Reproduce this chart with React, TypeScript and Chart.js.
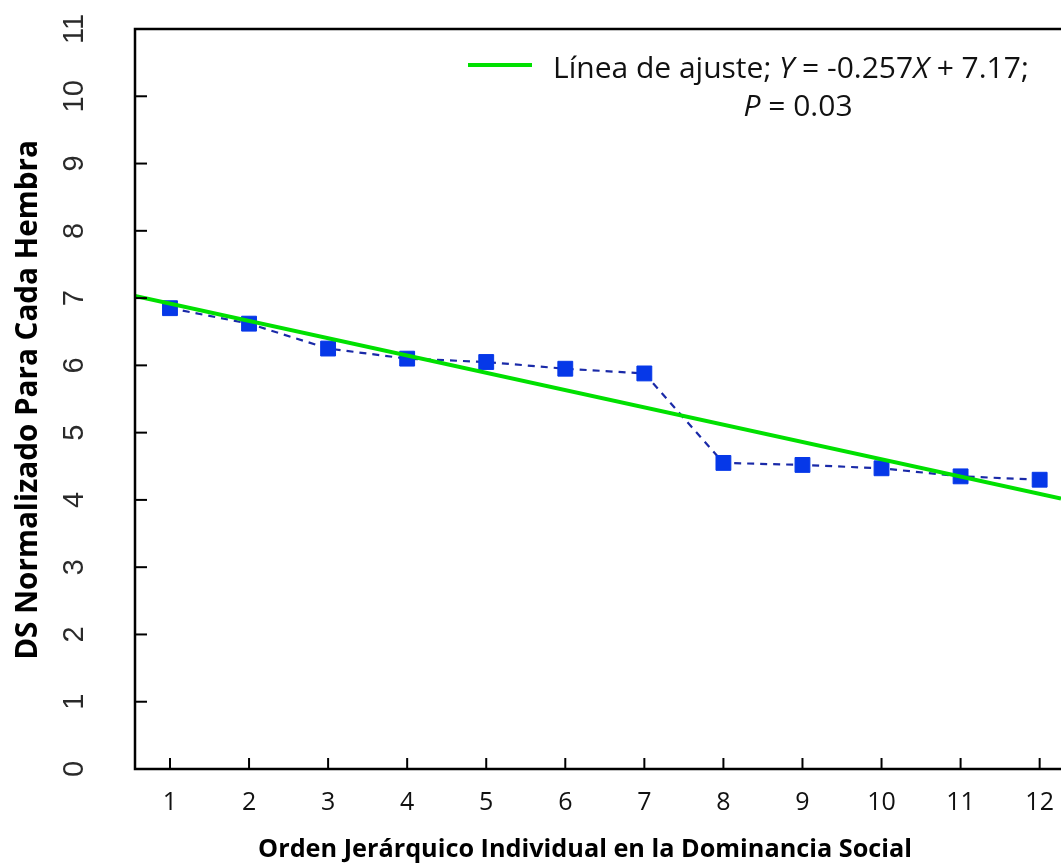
import React, { useEffect, useRef } from "react";
import { Chart, registerables } from "chart.js";
Chart.register(...registerables);

// ---- data ----
const rankOrder = [1, 2, 3, 4, 5, 6, 7, 8, 9, 10, 11, 12];
const dsValues = [6.85, 6.62, 6.25, 6.1, 6.05, 5.95, 5.88, 4.55, 4.52, 4.47, 4.35, 4.3];
const fitX = [0.5575, 12.27];
const fitY = [7.03, 4.02];
const xTickValues = [1, 2, 3, 4, 5, 6, 7, 8, 9, 10, 11, 12];
const yTickValues = [0, 1, 2, 3, 4, 5, 6, 7, 8, 9, 10, 11];
const xLimits = [0.5575, 12.27];
const yLimits = [0, 11];
const xTitle = "Orden Jerárquico Individual en la Dominancia Social";
const yTitle = "DS Normalizado Para Cada Hembra";
const legendLine1: [string, boolean][] = [
  ["Línea de ajuste; ", false],
  ["Y", true],
  [" = -0.257", false],
  ["X", true],
  [" + 7.17;", false],
];
const legendLine2: [string, boolean][] = [
  ["P", true],
  [" = 0.03", false],
];

const SANS_C = '"Open Sans", "Noto Sans", sans-serif';
const SANS_A = '"Liberation Sans", Arial, sans-serif';

function fitSize(ctx: CanvasRenderingContext2D, text: string, target: number, prefix: string, family: string) {
  ctx.font = `${prefix}100px ${family}`;
  const w = ctx.measureText(text).width;
  return (100 * target) / w;
}

const axesPlugin = {
  id: "customAxes",
  afterDatasetsDraw(chart: any) {
    const ctx = chart.ctx as CanvasRenderingContext2D;
    const { left, right, top, bottom } = chart.chartArea;
    const xs = chart.scales.x;
    const ys = chart.scales.y;
    ctx.save();
    ctx.strokeStyle = "#000";
    ctx.lineWidth = 2.5;
    ctx.lineCap = "butt";
    ctx.beginPath();
    ctx.moveTo(right, top);
    ctx.lineTo(left, top);
    ctx.lineTo(left, bottom);
    ctx.lineTo(right, bottom);
    ctx.stroke();
    ctx.lineWidth = 2;
    yTickValues.forEach((v) => {
      const y = ys.getPixelForValue(v);
      ctx.beginPath();
      ctx.moveTo(left, y);
      ctx.lineTo(left + 12, y);
      ctx.stroke();
    });
    xTickValues.forEach((v) => {
      const x = xs.getPixelForValue(v);
      ctx.beginPath();
      ctx.moveTo(x, bottom);
      ctx.lineTo(x, bottom - 11);
      ctx.stroke();
    });
    // y tick labels, rotated
    ctx.fillStyle = "#2a2a2a";
    ctx.font = `29px ${SANS_A}`;
    ctx.textAlign = "center";
    ctx.textBaseline = "middle";
    yTickValues.forEach((v) => {
      const y = ys.getPixelForValue(v);
      ctx.save();
      ctx.translate(75, y);
      ctx.rotate(-Math.PI / 2);
      ctx.fillText(String(v), 0, 0);
      ctx.restore();
    });
    // x tick labels
    ctx.fillStyle = "#111";
    ctx.font = `25px ${SANS_C}`;
    xTickValues.forEach((v) => {
      const x = xs.getPixelForValue(v);
      ctx.fillText(String(v), x, 803);
    });
    // x title
    const xs2 = fitSize(ctx, xTitle, 654, "bold ", SANS_C);
    ctx.font = `bold ${xs2}px ${SANS_C}`;
    ctx.fillStyle = "#000";
    ctx.fillText(xTitle, 585, 850);
    // y title
    const ys2 = fitSize(ctx, yTitle, 520, "bold ", SANS_C);
    ctx.save();
    ctx.translate(29, 400);
    ctx.rotate(-Math.PI / 2);
    ctx.font = `bold ${ys2}px ${SANS_C}`;
    ctx.fillText(yTitle, 0, 0);
    ctx.restore();
    // legend
    ctx.strokeStyle = "#00e000";
    ctx.lineWidth = 4;
    ctx.beginPath();
    ctx.moveTo(468, 65);
    ctx.lineTo(532, 65);
    ctx.stroke();
    const drawSegs = (segs: [string, boolean][], startX: number, y: number, center: boolean, size: number) => {
      const fontFor = (it: boolean) => `${it ? "italic " : ""}${size}px ${SANS_C}`;
      let total = 0;
      segs.forEach(([t, it]) => {
        ctx.font = fontFor(it);
        total += ctx.measureText(t).width;
      });
      let x = center ? startX - total / 2 : startX;
      ctx.textAlign = "left";
      segs.forEach(([t, it]) => {
        ctx.font = fontFor(it);
        ctx.fillText(t, x, y);
        x += ctx.measureText(t).width;
      });
    };
    ctx.fillStyle = "#111";
    drawSegs(legendLine1, 553, 69, false, 30);
    drawSegs(legendLine2, 798, 107, true, 30);
    ctx.restore();
  },
};

export default function App() {
  const ref = useRef<HTMLCanvasElement>(null);
  useEffect(() => {
    document.body.style.margin = "0";
    const fitData = fitX.map((x, i) => ({ x, y: fitY[i] }));
    const pts = rankOrder.map((x, i) => ({ x, y: dsValues[i] }));
    const chart = new Chart(ref.current!, {
      type: "scatter",
      data: {
        datasets: [
          {
            label: "fit",
            data: fitData,
            showLine: true,
            borderColor: "#00e000",
            borderWidth: 4,
            pointRadius: 0,
          },
          {
            label: "DS",
            data: pts,
            showLine: true,
            borderColor: "#1a2aa8",
            borderWidth: 2.2,
            borderDash: [7, 6],
            pointStyle: "rect",
            pointRadius: 10.5,
            pointBackgroundColor: "#0638e8",
            pointBorderColor: "#0638e8",
            pointBorderWidth: 1,
          },
        ],
      },
      options: {
        animation: false,
        responsive: false,
        layout: { autoPadding: false, padding: { left: 135, top: 29, right: 0, bottom: 96 } },
        plugins: { legend: { display: false }, tooltip: { enabled: false } },
        scales: {
          x: { type: "linear", min: xLimits[0], max: xLimits[1], display: false },
          y: { type: "linear", min: yLimits[0], max: yLimits[1], display: false },
        },
      },
      plugins: [axesPlugin],
    });
    return () => chart.destroy();
  }, []);
  return (
    <div style={{ width: 1061, height: 865, background: "#fff" }}>
      <canvas ref={ref} width={1061} height={865} style={{ display: "block" }} />
    </div>
  );
}
